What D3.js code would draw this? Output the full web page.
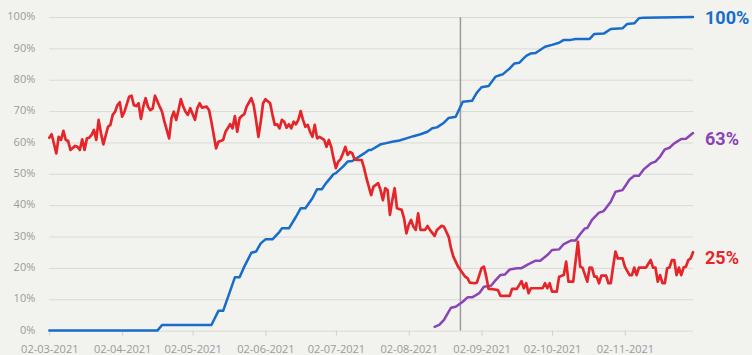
<!DOCTYPE html>
<html>
<head>
<meta charset="utf-8">
<script src="https://cdn.jsdelivr.net/npm/d3@7"></script>
<style>
  html, body { margin: 0; padding: 0; background: #f2f2ee; }
  svg { display: block; }
</style>
</head>
<body>
<svg id="chart" width="752" height="355"></svg>
<script>
// Series start date; each point is [days since start, percent]
const startDate = "02-03-2021";
const endDate = "01-12-2021";
const markerDate = "24-08-2021";

const monthTicks = ["02-03-2021", "02-04-2021", "02-05-2021", "02-06-2021", "02-07-2021",
  "02-08-2021", "02-09-2021", "02-10-2021", "02-11-2021"];
const pctTicks = [0, 10, 20, 30, 40, 50, 60, 70, 80, 90, 100];

const blueSeries = [
  [0, 0], [46, 0], [48, 1.8], [69, 1.8], [72, 6.3], [74, 6.3], [79, 17], [81, 17], [83, 20.4],
  [86, 24.8], [88, 25.2], [90, 27.8], [92, 29.1], [95, 29.1], [98, 31.5], [99, 32.6], [102, 32.6],
  [105, 36.3], [107, 39], [109, 39], [112, 42.2], [114, 45.1], [116, 45.1], [118, 47.2], [121, 49.9],
  [122, 50.2], [125, 52.3], [127, 53.9], [129, 54.1], [134, 56.5], [136, 57.6], [137, 57.6],
  [141, 59.4], [143, 59.7], [146, 60.2], [149, 60.6], [152, 61.3], [155, 62], [158, 62.6],
  [161, 63.4], [163, 64.5], [165, 64.8], [168, 66.3], [170, 67.8], [173, 68.2], [174, 69.8],
  [176, 73], [180, 73.3], [182, 75.9], [184, 77.6], [187, 78], [190, 81], [192, 81.5], [193, 81.7],
  [196, 83.6], [198, 85.2], [200, 85.4], [203, 87.6], [205, 88.4], [207, 88.5], [211, 90.5],
  [214, 91.1], [217, 91.8], [219, 92.7], [222, 92.7], [224, 93], [230, 93], [232, 94.6],
  [236, 94.7], [239, 96.2], [244, 96.4], [246, 97.8], [249, 98], [251, 99.6], [253, 99.8],
  [274, 100]
];

const purpleSeries = [
  [164, 1.2], [166, 1.8], [168, 3.4], [171, 7.3], [173, 7.6], [176, 9.2], [178, 10.6], [180, 10.6],
  [183, 11.9], [185, 14], [188, 14.3], [190, 16.1], [192, 17.7], [194, 17.9], [196, 19.5],
  [199, 19.9], [201, 19.9], [204, 21.2], [207, 22.3], [209, 22.3], [212, 24.1], [214, 25.7],
  [217, 25.9], [219, 27.6], [222, 28.7], [224, 28.7], [226, 30.8], [228, 32.6], [229, 32.7],
  [231, 35.3], [234, 37.6], [236, 38.1], [239, 41.1], [241, 44.3], [244, 44.8], [247, 48.2],
  [249, 49.4], [251, 49.4], [253, 51.4], [256, 53.3], [258, 53.9], [260, 55.5], [262, 57.8],
  [264, 58.3], [266, 59.7], [269, 61.1], [271, 61.2], [274, 63]
];

const redSeries = [
  [0, 61.5], [1, 62.6], [3, 56.5], [4, 61.8], [5, 60.8], [6, 63.7], [7, 60.8], [8, 60.5], [9, 57.6],
  [11, 58.9], [12, 58.6], [13, 57.6], [14, 61], [15, 57.6], [16, 61.3], [17, 61.5], [18, 62.4],
  [19, 64], [20, 60.8], [21, 67.2], [22, 62.9], [23, 59.4], [25, 65], [26, 65.6], [27, 68.8],
  [28, 69.8], [29, 71.9], [30, 72.8], [31, 68.2], [32, 69.8], [34, 74.6], [35, 74.9], [36, 71.9],
  [37, 71.6], [38, 72.5], [39, 67.5], [40, 71.4], [41, 74.1], [42, 71.4], [43, 70.3], [44, 70.8],
  [45, 74.9], [47, 71.4], [48, 69.8], [49, 66.6], [51, 61.3], [52, 67.7], [53, 69.8], [54, 67.2],
  [55, 70.3], [56, 73.8], [57, 71.4], [58, 69.8], [59, 68.8], [60, 70.9], [62, 67.2], [63, 70.9],
  [64, 72.5], [65, 71.1], [67, 71.4], [68, 70.3], [69, 66.6], [70, 62.4], [71, 58.1], [72, 60.2],
  [74, 60.8], [75, 63.4], [77, 65.8], [78, 64.5], [79, 68.4], [80, 63.4], [81, 67.7], [82, 68.5],
  [83, 69], [84, 71.4], [86, 74.1], [87, 71.9], [88, 67.2], [89, 61.8], [90, 66.6], [91, 72.5],
  [92, 73.8], [94, 72.5], [95, 68.8], [96, 65.6], [97, 65.8], [98, 64.5], [99, 67.2], [100, 66.6],
  [101, 64.7], [102, 65.8], [103, 64.5], [104, 66.6], [105, 65.8], [106, 67.2], [107, 70],
  [108, 67.2], [109, 65], [110, 65.6], [111, 63.4], [112, 61.8], [113, 65.6], [114, 61.3],
  [115, 61.8], [116, 61.3], [117, 60.8], [118, 58.6], [119, 60.8], [120, 58.6], [121, 54.9],
  [122, 51.8], [123, 53.9], [124, 54.7], [125, 56.5], [126, 58.6], [127, 56], [128, 57],
  [129, 56.5], [130, 54.5], [131, 54.4], [133, 54.4], [134, 51.8], [135, 48.6], [137, 43.2],
  [138, 45.9], [140, 47], [141, 44.8], [142, 41.6], [143, 45.4], [144, 44.8], [145, 36.9],
  [146, 41.6], [147, 45.4], [148, 39], [150, 38.5], [151, 35.8], [152, 31], [153, 33.7],
  [154, 35.3], [155, 33.1], [156, 32.1], [157, 37.4], [158, 32.1], [160, 32.1], [161, 33.4],
  [162, 32.1], [164, 30.2], [165, 32.1], [167, 33.4], [168, 33.1], [170, 29.9], [171, 26.2],
  [172, 23.6], [174, 20.4], [175, 19.3], [177, 17.2], [178, 16.7], [179, 15.3], [181, 15.1],
  [182, 15.3], [184, 19.9], [185, 20.4], [186, 17.2], [187, 13.3], [189, 13.2], [191, 12.9],
  [192, 11.1], [194, 11.1], [196, 11.1], [197, 13.3], [199, 13.3], [200, 14.5], [201, 15.8],
  [202, 13.5], [203, 15.1], [204, 11.9], [205, 13.5], [207, 13.5], [210, 13.5], [211, 15.1],
  [212, 13.5], [213, 15.1], [214, 12.4], [216, 12.4], [217, 17.2], [219, 17.7], [220, 22],
  [221, 15.6], [223, 15.6], [225, 28.3], [226, 20.4], [227, 20], [229, 15.6], [230, 20.1],
  [231, 20], [232, 17.2], [233, 17.2], [234, 15.1], [235, 17.5], [237, 17.5], [238, 15.1],
  [239, 15.1], [240, 20.4], [241, 25.2], [242, 23], [244, 23], [245, 20.4], [247, 17.7],
  [248, 17.7], [249, 20.1], [250, 17.7], [251, 20.1], [253, 20.1], [254, 20.1], [256, 22.5],
  [257, 20.1], [258, 20.1], [259, 15.6], [260, 17.7], [261, 15.1], [262, 15.1], [263, 19.9],
  [264, 20.1], [265, 22.5], [266, 22.5], [267, 17.7], [268, 20.1], [269, 17.7], [270, 20.1],
  [271, 20.4], [272, 22.5], [273, 23], [274, 25]
];

const seriesColors = { blue: "#176dc9", purple: "#8a44b6", red: "#e4262b" };
const endLabels = [
  { key: "blue", text: "100%", data: blueSeries },
  { key: "purple", text: "63%", data: purpleSeries },
  { key: "red", text: "25%", data: redSeries }
];

const parse = d3.timeParse("%d-%m-%Y");
const t0 = parse(startDate);
const dayToDate = d => d3.timeDay.offset(t0, d);

const svg = d3.select("#chart");
const plot = { left: 49.3, right: 693, top: 17, bottom: 330.6 };

const x = d3.scaleTime().domain([t0, parse(endDate)]).range([plot.left, plot.right]);
const y = d3.scaleLinear().domain([0, 100]).range([plot.bottom, plot.top]);

// horizontal grid + percent labels
const yAxis = d3.axisLeft(y)
  .tickValues(pctTicks)
  .tickFormat(d => d + "%")
  .tickSize(-(plot.right - plot.left))
  .tickPadding(14);
const gy = svg.append("g").attr("transform", `translate(${plot.left},0)`).call(yAxis);
gy.select(".domain").remove();
gy.selectAll(".tick line").attr("stroke", "#d9d9d6").attr("stroke-width", 1);
gy.selectAll(".tick text")
  .attr("fill", "#9b9b9b")
  .attr("font-family", "'Open Sans', sans-serif")
  .attr("font-size", 11)
  .attr("dy", "0.25em");

// date axis along the 0% line
const xAxis = d3.axisBottom(x)
  .tickValues(monthTicks.map(parse))
  .tickFormat(d3.timeFormat("%d-%m-%Y"))
  .tickSize(5)
  .tickPadding(10);
const gx = svg.append("g").attr("transform", `translate(0,${plot.bottom})`).call(xAxis);
gx.select(".domain").remove();
gx.selectAll(".tick line").attr("stroke", "#d0d0cc");
gx.selectAll(".tick text")
  .attr("fill", "#9b9b9b")
  .attr("font-family", "'Open Sans', sans-serif")
  .attr("font-size", 11);

// vertical reference line
const mx = x(parse(markerDate));
svg.append("line")
  .attr("x1", mx).attr("x2", mx)
  .attr("y1", plot.top).attr("y2", plot.bottom)
  .attr("stroke", "#9a9a9a")
  .attr("stroke-width", 1.5);

const line = d3.line()
  .x(d => x(dayToDate(d[0])))
  .y(d => y(d[1]));

[["blue", blueSeries], ["purple", purpleSeries], ["red", redSeries]].forEach(([key, data]) => {
  svg.append("path")
    .datum(data)
    .attr("d", line)
    .attr("fill", "none")
    .attr("stroke", seriesColors[key])
    .attr("stroke-width", key === "red" ? 2.7 : 2.5)
    .attr("stroke-linejoin", "round")
    .attr("stroke-linecap", "round");
});

// end-of-line value labels
svg.append("g").selectAll("text")
  .data(endLabels)
  .join("text")
  .attr("x", 705)
  .attr("y", d => {
    const last = d.data[d.data.length - 1][1];
    return y(last) + (last >= 100 ? 6.5 : 11.5);
  })
  .attr("fill", d => seriesColors[d.key])
  .attr("font-family", "Roboto, sans-serif")
  .attr("font-weight", 700)
  .attr("font-size", 18)
  .text(d => d.text);
</script>
</body>
</html>
